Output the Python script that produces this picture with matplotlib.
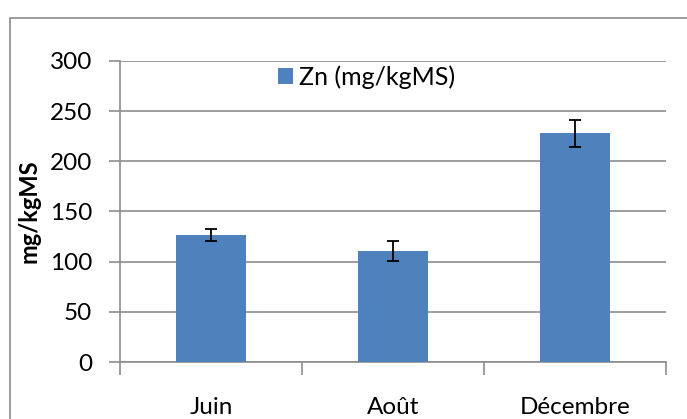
import matplotlib
matplotlib.use("Agg")
import matplotlib.pyplot as plt
from matplotlib.patches import Rectangle
import numpy as np

categories = ["Juin", "Août", "Décembre"]
values = [126.5, 110.5, 228]
errors = [6, 10, 13.5]
series_name = "Zn (mg/kgMS)"
y_label = "mg/kgMS"
yticks = [0, 50, 100, 150, 200, 250, 300]

W, H = 687, 419
fig = plt.figure(figsize=(W / 100, H / 100), dpi=100)
plt.rcParams['font.family'] = ['Lato', 'DejaVu Sans']

# outer chart border
fig.patches.append(Rectangle((10 / W, -0.1), 1.2, (H - 18) / H + 0.1, transform=fig.transFigure,
                             fill=False, edgecolor="#8c8c8c", linewidth=1.2))

ax = fig.add_axes([120 / W, (H - 362) / H, (666 - 120) / W, (362 - 61) / H])
x = np.arange(len(categories))
ax.bar(x, values, width=0.39, color="#4F81BD", label=series_name, zorder=3)
ax.errorbar(x, values, yerr=errors, fmt="none", ecolor="black", elinewidth=1.3,
            capsize=4, capthick=1.3, zorder=4)

ax.set_xlim(-0.5, len(categories) - 0.5)
ax.set_ylim(0, 300)
ax.set_yticks(yticks)
ax.set_yticklabels([str(t) for t in yticks], fontsize=17.5)
ax.yaxis.grid(True, color="#8c8c8c", linewidth=1.2, zorder=0)
ax.set_axisbelow(True)
ax.tick_params(axis="y", length=8, width=1.2, color="#8c8c8c", pad=12)

ax.set_xticks(x)
ax.set_xticklabels(categories, fontsize=17.5)
ax.tick_params(axis="x", length=0, pad=25)
ax.set_xticks(np.arange(len(categories) + 1) - 0.5, minor=True)
ax.tick_params(axis="x", which="minor", length=9, width=1.2, color="#8c8c8c")

for s in ["top", "right"]:
    ax.spines[s].set_visible(False)
for s in ["left", "bottom"]:
    ax.spines[s].set_color("#8c8c8c")
    ax.spines[s].set_linewidth(1.2)

ax.set_ylabel(y_label, fontsize=17, fontweight="bold")
ax.yaxis.set_label_coords(-80 / (666 - 120), 0.5)

ax.legend(loc="upper left", bbox_to_anchor=((278 - 120) / (666 - 120), 1.0 - 4 / 301),
          frameon=False, fontsize=18, handlelength=0.6, handleheight=0.6,
          handletextpad=0.25, borderaxespad=0, borderpad=0)

fig.savefig("out.png", dpi=100)
